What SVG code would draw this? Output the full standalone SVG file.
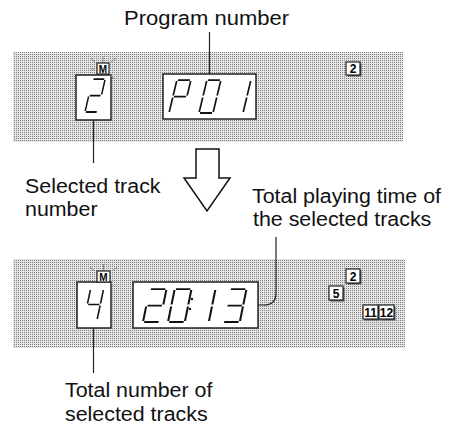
<svg xmlns="http://www.w3.org/2000/svg" xmlns:xlink="http://www.w3.org/1999/xlink" width="465" height="429" viewBox="0 0 465 429">
<style>
.lbl{font-family:"Liberation Sans",Arial,sans-serif;font-size:20px;fill:#111}
.panel{fill:url(#dots)}
.disp{fill:#fff;stroke:#222;stroke-width:1.5}
.seg{fill:none;stroke:#111;stroke-width:1.7;stroke-linecap:butt}
.mbox{fill:#fff;stroke:#222;stroke-width:1.2}
.mtxt{font-family:"Liberation Sans",Arial,sans-serif;font-size:10px;font-weight:bold;fill:#000;text-anchor:middle}
.ray{stroke:#888;stroke-width:1;fill:none}
.nbox{fill:#fff;stroke:#222;stroke-width:1.2}
.nsh{fill:#555}
.ntxt{font-family:"Liberation Sans",Arial,sans-serif;font-size:12px;font-weight:bold;fill:#000;text-anchor:middle}
.lead{stroke:#222;stroke-width:1.2;fill:none}
</style>
<defs>
<pattern id="dots" width="2" height="2" patternUnits="userSpaceOnUse">
<rect width="2" height="2" fill="#e4e4e4"/>
<rect width="1" height="1" fill="#808080"/>
</pattern>
<path id="sa" d="M1,-32H13"/>
<path id="sb" d="M14,-31V-17"/>
<path id="sc" d="M14,-15V-1"/>
<path id="sd" d="M1,0H13"/>
<path id="se" d="M0,-15V-1"/>
<path id="sf" d="M0,-31V-17"/>
<path id="sg" d="M1,-16H13"/>
<g id="d2" class="seg"><use xlink:href="#sa"/><use xlink:href="#sb"/><use xlink:href="#sg"/><use xlink:href="#se"/><use xlink:href="#sd"/></g>
<g id="dP" class="seg"><use xlink:href="#sa"/><use xlink:href="#sb"/><use xlink:href="#sf"/><use xlink:href="#sg"/><use xlink:href="#se"/></g>
<g id="d0" class="seg"><use xlink:href="#sa"/><use xlink:href="#sb"/><use xlink:href="#sc"/><use xlink:href="#sd"/><use xlink:href="#se"/><use xlink:href="#sf"/></g>
<g id="d1" class="seg"><use xlink:href="#sb"/><use xlink:href="#sc"/></g>
<g id="d4" class="seg"><use xlink:href="#sf"/><use xlink:href="#sg"/><use xlink:href="#sb"/><use xlink:href="#sc"/></g>
<g id="d3" class="seg"><use xlink:href="#sa"/><use xlink:href="#sb"/><use xlink:href="#sg"/><use xlink:href="#sc"/><use xlink:href="#sd"/></g>
</defs>

<g id="label-program-number"><text class="lbl" transform="translate(124,25) scale(1.1,1.05)">Program number</text></g>

<g id="panel-before">
<rect class="panel" x="13" y="52" width="390" height="90"/>
</g>
<g id="track-display-before">
<rect class="disp" x="76" y="75" width="35" height="45"/>
<use xlink:href="#d2" transform="translate(85,112) skewX(-13) scale(0.9,1.03)"/>
</g>
<g id="m-indicator-before">
<path class="ray" d="M95,69H91M95,62L90,58M103,62V56M111,62L116,58M110,75L114,79"/>
<rect class="mbox" x="97" y="63" width="12" height="11"/>
<text class="mtxt" x="103" y="72.5">M</text>
</g>
<g id="program-display">
<rect class="disp" x="163" y="74" width="93" height="45"/>
<use xlink:href="#dP" transform="translate(169,113) skewX(-13.5) scale(1,1.03)"/>
<use xlink:href="#d0" transform="translate(199,113) skewX(-13.5) scale(1,1.03)"/>
<use xlink:href="#d1" transform="translate(229,113) skewX(-13.5) scale(1,1.03)"/>
</g>
<g id="track-box-2-before">
<rect class="nsh" x="347.5" y="63.5" width="14" height="13"/>
<rect class="nbox" x="346" y="62" width="14" height="13"/>
<text class="ntxt" x="353" y="73">2</text>
</g>

<g id="arrow-down">
<polygon points="196,149 219,149 219,178 230,178 207,211 184,178 196,178" fill="#fff" stroke="#111" stroke-width="1.5" stroke-linejoin="miter"/>
</g>

<g id="label-selected-track">
<text class="lbl" transform="translate(25,193) scale(1.07,1.05)">Selected track</text>
<text class="lbl" transform="translate(25,216) scale(1.07,1.05)">number</text>
</g>
<g id="label-total-time">
<text class="lbl" transform="translate(252,203) scale(1.07,1.05)">Total playing time of</text>
<text class="lbl" transform="translate(253,226) scale(1.07,1.05)">the selected tracks</text>
</g>

<g id="panel-after">
<rect class="panel" x="13" y="259" width="392" height="89"/>
</g>
<g id="count-display">
<rect class="disp" x="77" y="282" width="34" height="46"/>
<use xlink:href="#d4" transform="translate(84,320) skewX(-12) scale(0.93,0.97)"/>
</g>
<g id="m-indicator-after">
<path class="ray" d="M95,271L90,267M103.5,270V264M112,271L117,267M111,283L115,287"/>
<rect class="mbox" x="97" y="271" width="13" height="11"/>
<text class="mtxt" x="103.5" y="280.5">M</text>
</g>
<g id="time-display">
<rect class="disp" x="133" y="282" width="125" height="46"/>
<use xlink:href="#d2" transform="translate(143,322) skewX(-11.5) scale(1.2,1.03)"/>
<use xlink:href="#d0" transform="translate(168,322) skewX(-11.5) scale(1.2,1.03)"/>
<circle cx="192" cy="299" r="1.2" fill="#111"/>
<circle cx="190" cy="309" r="1.2" fill="#111"/>
<use xlink:href="#d1" transform="translate(192,322) skewX(-11.5) scale(1.2,1.03)"/>
<use xlink:href="#d3" transform="translate(223,322) skewX(-11.5) scale(1.2,1.03)"/>
</g>
<g id="track-box-2-after">
<rect class="nsh" x="347.5" y="270.5" width="14" height="14"/>
<rect class="nbox" x="346" y="269" width="14" height="14"/>
<text class="ntxt" x="353" y="280.5">2</text>
</g>
<g id="track-box-5">
<rect class="nsh" x="330.5" y="287.5" width="14" height="14"/>
<rect class="nbox" x="329" y="286" width="14" height="14"/>
<text class="ntxt" x="336" y="297.5">5</text>
</g>
<g id="track-box-11">
<rect class="nsh" x="364.5" y="306.5" width="15" height="14"/>
<rect class="nbox" x="363" y="305" width="15" height="14"/>
<text class="ntxt" x="370.5" y="316.5">11</text>
</g>
<g id="track-box-12">
<rect class="nsh" x="380.5" y="306.5" width="15" height="14"/>
<rect class="nbox" x="379" y="305" width="15" height="14"/>
<text class="ntxt" x="386.5" y="316.5">12</text>
</g>

<g id="label-total-number">
<text class="lbl" transform="translate(65,397) scale(1.07,1.05)">Total number of</text>
<text class="lbl" transform="translate(65,421) scale(1.07,1.05)">selected tracks</text>
</g>

<g id="connectors">
<path class="lead" d="M209.5,32V74"/>
<path class="lead" d="M93.5,120V163"/>
<path class="lead" d="M276,237V293Q276,305 264,305H258"/>
<path class="lead" d="M93.5,328V373"/>
</g>
</svg>
